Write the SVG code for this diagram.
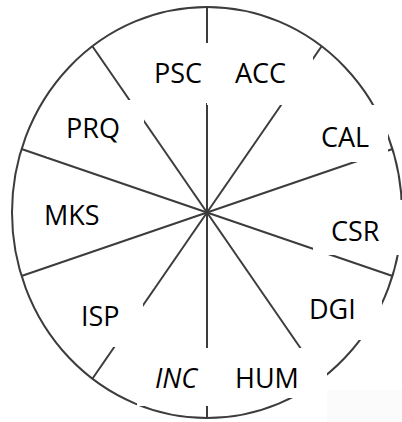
<svg xmlns="http://www.w3.org/2000/svg" width="402" height="422" viewBox="0 0 402 422">
  <style>
    .ln { stroke: #3c3c3c; stroke-width: 2; fill: none; }
    .bx { fill: #ffffff; stroke: none; }
    .lb { font-family: "Open Sans", "Liberation Sans", sans-serif; font-size: 27px; fill: #000000; }
    .it { font-style: italic; }
  </style>
  <rect x="0" y="0" width="402" height="422" fill="#ffffff"/>
  <g id="connectors">
    <ellipse class="ln" cx="207" cy="212.5" rx="195" ry="205.5"/>
    <line class="ln" x1="207" y1="212.5" x2="207" y2="7"/>
    <line class="ln" x1="207" y1="212.5" x2="321.6" y2="46.2"/>
    <line class="ln" x1="207" y1="212.5" x2="392.5" y2="149"/>
    <line class="ln" x1="207" y1="212.5" x2="392.5" y2="276"/>
    <line class="ln" x1="207" y1="212.5" x2="321.6" y2="378.8"/>
    <line class="ln" x1="207" y1="212.5" x2="207" y2="418"/>
    <line class="ln" x1="207" y1="212.5" x2="92.4" y2="378.8"/>
    <line class="ln" x1="207" y1="212.5" x2="21.5" y2="276"/>
    <line class="ln" x1="207" y1="212.5" x2="21.5" y2="149"/>
    <line class="ln" x1="207" y1="212.5" x2="92.4" y2="46.2"/>
  </g>
  <rect x="327" y="390" width="75" height="32" fill="#fbfbfb"/>
  <g id="PSC">
    <rect class="bx" x="146" y="43" width="62" height="60"/>
    <text class="lb" x="154" y="83">PSC</text>
  </g>
  <g id="ACC">
    <rect class="bx" x="207" y="43" width="106" height="62"/>
    <text class="lb" x="235" y="83">ACC</text>
  </g>
  <g id="PRQ">
    <rect class="bx" x="47" y="100" width="97" height="57"/>
    <text class="lb" x="66" y="138">PRQ</text>
  </g>
  <g id="CAL">
    <rect class="bx" x="315" y="105" width="73" height="57"/>
    <text class="lb" x="321" y="147">CAL</text>
  </g>
  <g id="MKS">
    <rect class="bx" x="42" y="192" width="72" height="40"/>
    <text class="lb" x="44" y="225">MKS</text>
  </g>
  <g id="CSR">
    <rect class="bx" x="313" y="200" width="89" height="55"/>
    <text class="lb" x="331" y="241">CSR</text>
  </g>
  <g id="DGI">
    <rect class="bx" x="303" y="285" width="79" height="55"/>
    <text class="lb" x="309" y="319">DGI</text>
  </g>
  <g id="ISP">
    <rect class="bx" x="75" y="290" width="68" height="57"/>
    <text class="lb" x="81" y="326">ISP</text>
  </g>
  <g id="INC">
    <rect class="bx" x="137" y="348" width="73" height="58"/>
    <text class="lb it" x="155" y="388">INC</text>
  </g>
  <g id="HUM">
    <rect class="bx" x="229" y="348" width="98" height="50"/>
    <text class="lb" x="235" y="388">HUM</text>
  </g>
</svg>
